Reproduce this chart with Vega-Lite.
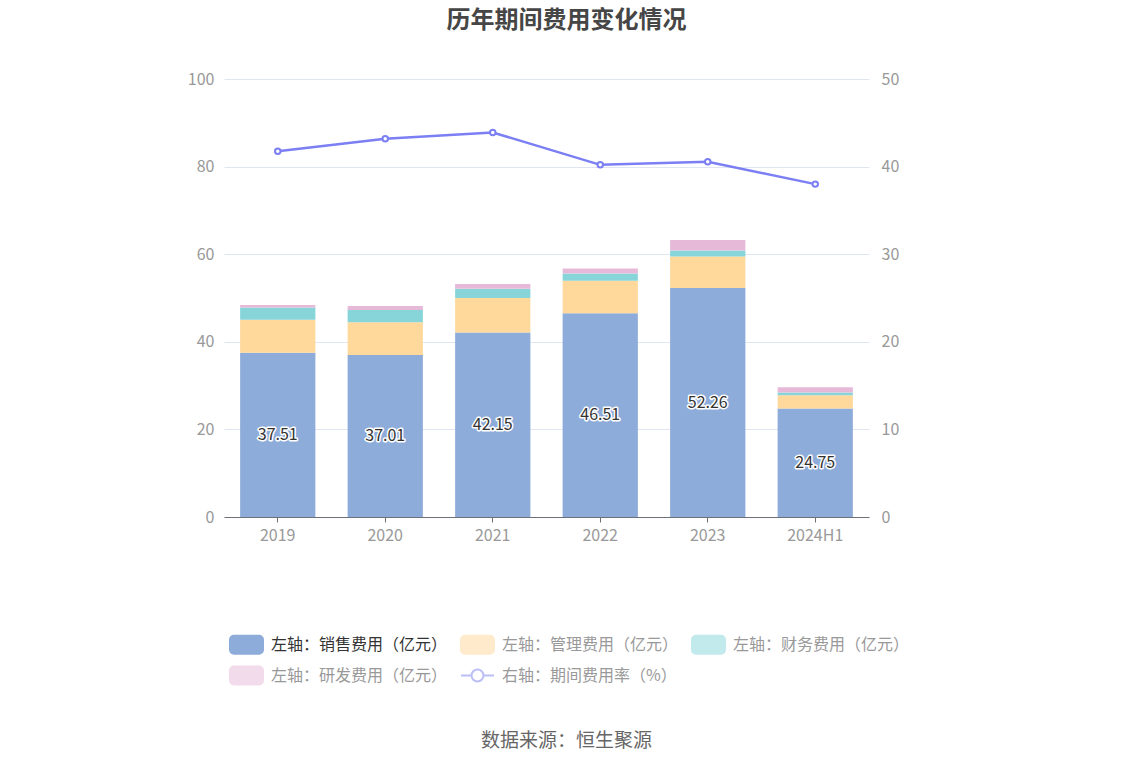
{
  "$schema": "https://vega.github.io/schema/vega-lite/v6.json",
  "autosize": {"type": "none"},
  "width": 645,
  "height": 438,
  "padding": {"left": 224, "top": 79, "right": 265, "bottom": 249},
  "background": "white",
  "title": {
    "text": "历年期间费用变化情况",
    "fontSize": 24,
    "fontWeight": "bold",
    "color": "#464646",
    "anchor": "middle",
    "frame": "group",
    "dx": 20,
    "offset": 38
  },
  "config": {
    "font": "Noto Sans CJK SC",
    "view": {"stroke": null}
  },
  "datasets": {
    "costs": [
      {"year": "2019", "series": "左轴：销售费用（亿元）", "idx": 1, "value": 37.51},
      {"year": "2019", "series": "左轴：管理费用（亿元）", "idx": 2, "value": 7.5},
      {"year": "2019", "series": "左轴：财务费用（亿元）", "idx": 3, "value": 2.8},
      {"year": "2019", "series": "左轴：研发费用（亿元）", "idx": 4, "value": 0.6},
      {"year": "2020", "series": "左轴：销售费用（亿元）", "idx": 1, "value": 37.01},
      {"year": "2020", "series": "左轴：管理费用（亿元）", "idx": 2, "value": 7.45},
      {"year": "2020", "series": "左轴：财务费用（亿元）", "idx": 3, "value": 2.8},
      {"year": "2020", "series": "左轴：研发费用（亿元）", "idx": 4, "value": 0.9},
      {"year": "2021", "series": "左轴：销售费用（亿元）", "idx": 1, "value": 42.15},
      {"year": "2021", "series": "左轴：管理费用（亿元）", "idx": 2, "value": 7.85},
      {"year": "2021", "series": "左轴：财务费用（亿元）", "idx": 3, "value": 2.1},
      {"year": "2021", "series": "左轴：研发费用（亿元）", "idx": 4, "value": 1.1},
      {"year": "2022", "series": "左轴：销售费用（亿元）", "idx": 1, "value": 46.51},
      {"year": "2022", "series": "左轴：管理费用（亿元）", "idx": 2, "value": 7.4},
      {"year": "2022", "series": "左轴：财务费用（亿元）", "idx": 3, "value": 1.7},
      {"year": "2022", "series": "左轴：研发费用（亿元）", "idx": 4, "value": 1.1},
      {"year": "2023", "series": "左轴：销售费用（亿元）", "idx": 1, "value": 52.26},
      {"year": "2023", "series": "左轴：管理费用（亿元）", "idx": 2, "value": 7.2},
      {"year": "2023", "series": "左轴：财务费用（亿元）", "idx": 3, "value": 1.4},
      {"year": "2023", "series": "左轴：研发费用（亿元）", "idx": 4, "value": 2.4},
      {"year": "2024H1", "series": "左轴：销售费用（亿元）", "idx": 1, "value": 24.75},
      {"year": "2024H1", "series": "左轴：管理费用（亿元）", "idx": 2, "value": 3.05},
      {"year": "2024H1", "series": "左轴：财务费用（亿元）", "idx": 3, "value": 0.6},
      {"year": "2024H1", "series": "左轴：研发费用（亿元）", "idx": 4, "value": 1.2}
    ],
    "rate": [
      {"year": "2019", "rate": 41.74},
      {"year": "2020", "rate": 43.18},
      {"year": "2021", "rate": 43.9},
      {"year": "2022", "rate": 40.2},
      {"year": "2023", "rate": 40.55},
      {"year": "2024H1", "rate": 38.0}
    ]
  },
  "encoding": {
    "x": {
      "field": "year",
      "type": "nominal",
      "sort": null,
      "scale": {"paddingInner": 0.3, "paddingOuter": 0.15},
      "axis": {
        "title": "数据来源：恒生聚源",
        "titleFontSize": 19,
        "titleFontWeight": "normal",
        "titleColor": "#666",
        "titlePadding": 188,
        "titleX": 342,
        "labelAngle": 0,
        "labelFontSize": 16,
        "labelColor": "#999",
        "labelPadding": 5,
        "domainColor": "#6e7079",
        "tickColor": "#6e7079",
        "tickSize": 5,
        "grid": false
      }
    }
  },
  "layer": [
    {
      "data": {"name": "costs"},
      "mark": {"type": "bar"},
      "encoding": {
        "y": {
          "field": "value",
          "type": "quantitative",
          "stack": "zero",
          "scale": {"domain": [0, 100]},
          "axis": {
            "title": null,
            "orient": "left",
            "values": [0, 20, 40, 60, 80, 100],
            "labelFontSize": 16,
            "labelColor": "#999",
            "labelPadding": 10,
            "domain": false,
            "ticks": false,
            "gridColor": "#e0e6f1",
            "gridWidth": 1
          }
        },
        "order": {"field": "idx", "type": "quantitative"},
        "color": {
          "field": "series",
          "type": "nominal",
          "scale": {
            "domain": ["左轴：销售费用（亿元）", "左轴：管理费用（亿元）", "左轴：财务费用（亿元）", "左轴：研发费用（亿元）", "右轴：期间费用率（%）"],
            "range": ["#8eacd9", "#ffd89b", "#87d5d9", "#e7b9d9", "#7b7ff3"]
          },
          "legend": {
            "title": null,
            "orient": "none",
            "legendX": 5,
            "legendY": 548,
            "direction": "horizontal",
            "columns": 3,
            "columnPadding": 9,
            "rowPadding": -7,
            "symbolSize": 1089,
            "labelFontSize": 16,
            "labelOffset": 7,
            "labelLimit": 300,
            "encoding": {
              "symbols": {
                "shape": {"value": {"expr": "datum.value === '右轴：期间费用率（%）' ? 'M-1,0H-0.36M0.36,0H1M-0.36,0A0.36,0.36,0,1,1,0.36,0A0.36,0.36,0,1,1,-0.36,0Z' : 'M-0.76,-0.545H0.76A0.24,0.24,0,0,1,1,-0.305V0.305A0.24,0.24,0,0,1,0.76,0.545H-0.76A0.24,0.24,0,0,1,-1,0.305V-0.305A0.24,0.24,0,0,1,-0.76,-0.545Z'"}},
                "stroke": {"value": {"expr": "datum.value === '右轴：期间费用率（%）' ? '#7b7ff3' : 'transparent'"}},
                "strokeWidth": {"value": 2},
                "opacity": {"value": {"expr": "datum.value === '左轴：销售费用（亿元）' ? 1 : 0.5"}},
                "fillOpacity": {"value": {"expr": "datum.value === '右轴：期间费用率（%）' ? 0 : 1"}}
              },
              "labels": {
                "fill": {"value": {"expr": "datum.value === '左轴：销售费用（亿元）' ? '#333333' : '#999999'"}}
              }
            }
          }
        }
      }
    },
    {
      "data": {"name": "rate"},
      "mark": {
        "type": "line",
        "strokeWidth": 2.5,
        "point": {"filled": false, "fill": "white", "size": 30, "strokeWidth": 2}
      },
      "encoding": {
        "y": {
          "field": "rate",
          "type": "quantitative",
          "scale": {"domain": [0, 50]},
          "axis": {
            "title": null,
            "orient": "right",
            "values": [0, 10, 20, 30, 40, 50],
            "labelFontSize": 16,
            "labelColor": "#999",
            "labelPadding": 12,
            "domain": false,
            "ticks": false,
            "grid": false
          }
        },
        "color": {"datum": "右轴：期间费用率（%）", "type": "nominal"}
      }
    },
    {
      "data": {"name": "costs"},
      "transform": [{"filter": "datum.idx === 1"}],
      "encoding": {
        "y": {
          "field": "value",
          "type": "quantitative",
          "scale": {"domain": [0, 200]},
          "axis": null
        },
        "text": {"field": "value", "type": "quantitative", "format": ".2f"}
      },
      "layer": [
        {
          "mark": {"type": "text", "fontSize": 16, "fill": "white", "stroke": "white", "strokeWidth": 3, "strokeJoin": "round", "baseline": "middle"}
        },
        {
          "mark": {"type": "text", "fontSize": 16, "fill": "#333", "baseline": "middle"}
        }
      ]
    }
  ],
  "resolve": {"scale": {"y": "independent"}}
}
